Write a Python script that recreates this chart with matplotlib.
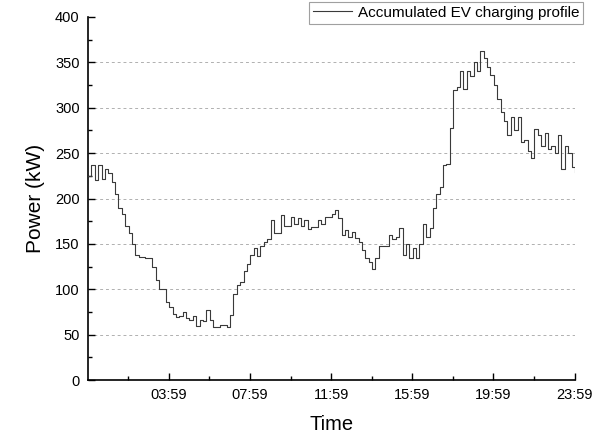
import numpy as np
import matplotlib
matplotlib.use("Agg")
import matplotlib.pyplot as plt
from matplotlib.ticker import MultipleLocator, FixedLocator

plt.rcParams['font.family'] = ['Liberation Sans', 'DejaVu Sans']

# Accumulated EV charging power, one value per 10-minute slot (kW)
step_minutes = 10
power_kw = [
    225, 237, 220, 237, 222, 233, 228, 218, 205, 189,
    183, 170, 162, 150, 138, 135, 136, 134, 134, 125,
    110, 100, 100, 86, 80, 73, 69, 70, 75, 68,
    66, 70, 60, 66, 65, 77, 66, 58, 58, 61,
    61, 58, 72, 95, 105, 108, 120, 128, 138, 145,
    137, 148, 152, 155, 176, 162, 162, 182, 170, 170,
    180, 172, 178, 170, 176, 166, 169, 169, 176, 172,
    180, 180, 183, 187, 178, 160, 165, 158, 163, 156,
    152, 143, 134, 130, 122, 134, 148, 148, 148, 160,
    155, 158, 168, 138, 150, 134, 145, 134, 150, 172,
    158, 168, 190, 205, 213, 237, 238, 278, 320, 323,
    341, 321, 341, 335, 350, 340, 363, 355, 345, 336,
    325, 310, 295, 285, 270, 290, 275, 290, 262, 265,
    252, 245, 277, 270, 258, 272, 255, 258, 250, 270,
    233, 258, 250, 235,
]
end_value = 229

tick_minutes = [239, 479, 719, 959, 1199, 1439]
tick_labels = ["03:59", "07:59", "11:59", "15:59", "19:59", "23:59"]
minor_tick_minutes = [119, 359, 599, 839, 1079, 1319]
grid_levels = [50, 100, 150, 200, 250, 300, 350]

t = np.arange(len(power_kw)) * step_minutes
t = np.append(t, 1439)
p = np.append(power_kw, end_value)

fig = plt.figure(figsize=(6.12, 4.34), dpi=100)
ax = fig.add_axes([88 / 612, 1 - 380 / 434, 487 / 612, 363 / 434])

for lvl in grid_levels:
    ax.axhline(lvl, color='#b0b0b0', linestyle=(0, (3, 3)), linewidth=0.7, zorder=1)

ax.step(t, p, where='post', color='#3a3a3a', linewidth=0.8, zorder=3,
        label='Accumulated EV charging profile')

ax.set_xlim(0, 1440)
ax.set_ylim(0, 400)

ax.xaxis.set_major_locator(FixedLocator(tick_minutes))
ax.set_xticklabels(tick_labels)
ax.xaxis.set_minor_locator(FixedLocator(minor_tick_minutes))
ax.yaxis.set_major_locator(MultipleLocator(50))
ax.yaxis.set_minor_locator(MultipleLocator(25))

ax.tick_params(which='major', direction='in', length=5, width=1, labelsize=10.5, pad=6)
ax.tick_params(which='minor', direction='in', length=3, width=1)
ax.spines['top'].set_visible(False)
ax.spines['right'].set_visible(False)
for s in ('left', 'bottom'):
    ax.spines[s].set_linewidth(1.2)

ax.set_xlabel('Time', fontsize=14.5, labelpad=9)
ax.set_ylabel('Power (kW)', fontsize=15, labelpad=7)

leg = ax.legend(loc='upper right', bbox_to_anchor=(583 / 612, 1 - 2 / 434),
                bbox_transform=fig.transFigure, fontsize=11, frameon=True,
                fancybox=False, handlelength=2.6, handletextpad=0.35,
                borderpad=0.25, borderaxespad=0)
leg.get_frame().set_edgecolor('#888888')
leg.get_frame().set_linewidth(0.8)

fig.savefig('out.png', dpi=100)
